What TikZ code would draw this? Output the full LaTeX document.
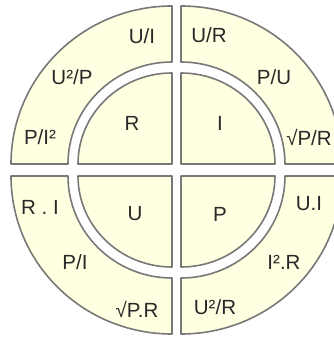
\documentclass[tikz,border=0pt]{standalone}
\usepackage{fontspec}
\setmainfont{Liberation Sans}
\definecolor{fillc}{RGB}{255,255,225}
\definecolor{edgec}{RGB}{120,120,120}
\definecolor{textc}{RGB}{40,40,40}
\begin{document}
\begin{tikzpicture}[x=1pt,y=1pt,
  seg/.style={draw=edgec,fill=fillc,line width=1.6pt,line join=round},
  lbl/.style={text=textc,font=\fontsize{20.5}{23}\selectfont,inner sep=0pt}]
\useasboundingbox (0,0) rectangle (334,338);
\begin{scope}
\clip (0,0) rectangle (334,338);
% corners
\coordinate (ul) at (172,174);
\coordinate (ur) at (181,174);
\coordinate (ll) at (172,162);
\coordinate (lr) at (181,162);
% outer rings
\path[seg] ([xshift=-161pt]ul) arc[start angle=180,end angle=90,x radius=161,y radius=158]
  -- ([yshift=102pt]ul) arc[start angle=90,end angle=180,x radius=104,y radius=102] -- cycle;
\path[seg] ([xshift=161pt]ur) arc[start angle=0,end angle=90,x radius=161,y radius=158]
  -- ([yshift=102pt]ur) arc[start angle=90,end angle=0,x radius=104,y radius=102] -- cycle;
\path[seg] ([xshift=-161pt]ll) arc[start angle=180,end angle=270,x radius=161,y radius=158]
  -- ([yshift=-102pt]ll) arc[start angle=270,end angle=180,x radius=104,y radius=102] -- cycle;
\path[seg] ([xshift=161pt]lr) arc[start angle=0,end angle=-90,x radius=161,y radius=158]
  -- ([yshift=-102pt]lr) arc[start angle=-90,end angle=0,x radius=104,y radius=102] -- cycle;
% inner discs
\path[seg] (ul) -- ([xshift=-94pt]ul) arc[start angle=180,end angle=90,x radius=94,y radius=91] -- cycle;
\path[seg] (ur) -- ([xshift=94pt]ur) arc[start angle=0,end angle=90,x radius=94,y radius=91] -- cycle;
\path[seg] (ll) -- ([xshift=-94pt]ll) arc[start angle=180,end angle=270,x radius=94,y radius=91] -- cycle;
\path[seg] (lr) -- ([xshift=94pt]lr) arc[start angle=0,end angle=-90,x radius=94,y radius=91] -- cycle;
\end{scope}
% labels
\node[lbl] (r) at (132,215) {R};
\node[lbl] (i) at (220,215) {I};
\node[lbl] (u) at (135,124) {U};
\node[lbl] (p) at (220,124) {P};
\node[lbl] (ui1) at (142,302) {U/I};
\node[lbl] (u2p) at (72,261) {U²/P};
\node[lbl] (pi2) at (40,201) {P/I²};
\node[lbl] (ur1) at (209,303) {U/R};
\node[lbl] (pu) at (274,261) {P/U};
\node[lbl] (spr) at (309,201) {√P/R};
\node[lbl] (ri) at (40,131) {R . I};
\node[lbl] (pi) at (75,76) {P/I};
\node[lbl] (sprr) at (137,29) {√P.R};
\node[lbl] (ui) at (309,134) {U.I};
\node[lbl] (i2r) at (284,76) {I².R};
\node[lbl] (u2r) at (215,31) {U²/R};
\end{tikzpicture}
\end{document}
